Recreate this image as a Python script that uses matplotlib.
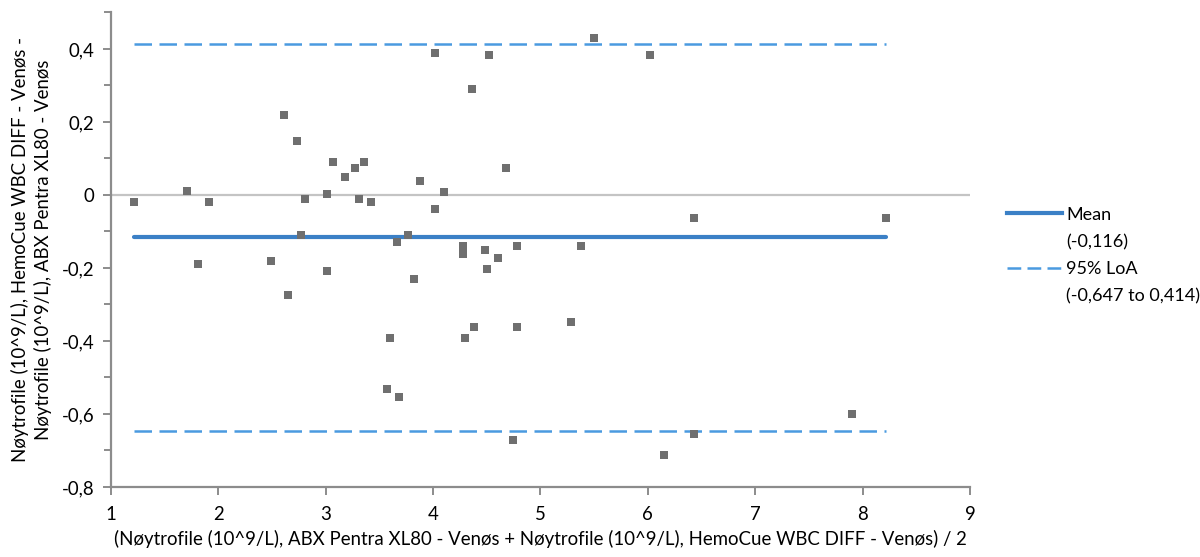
import matplotlib
matplotlib.use("Agg")
import matplotlib.pyplot as plt
from matplotlib.lines import Line2D
from matplotlib.ticker import MultipleLocator, FuncFormatter

# ---- data ----
avg = [1.21, 1.71, 1.81, 1.91, 2.49, 2.61, 2.65, 2.65, 2.73, 2.77, 2.81,
       3.01, 3.01, 3.07, 3.18, 3.27, 3.31, 3.36, 3.42, 3.57, 3.60, 3.66,
       3.68, 3.77, 3.82, 3.88, 4.02, 4.02, 4.10, 4.28, 4.28, 4.30, 4.36,
       4.38, 4.48, 4.50, 4.52, 4.60, 4.68, 4.74, 4.78, 4.78, 5.28, 5.38,
       5.50, 6.02, 6.15, 6.43, 6.43, 7.90, 8.22]
diff = [-0.020, 0.010, -0.190, -0.020, -0.180, 0.220, -0.273, -0.273, 0.149,
        -0.109, -0.010, 0.002, -0.209, 0.090, 0.049, 0.073, -0.010, 0.090,
        -0.020, -0.531, -0.391, -0.130, -0.554, -0.109, -0.230, 0.038, 0.390,
        -0.039, 0.008, -0.139, -0.162, -0.391, 0.290, -0.361, -0.150, -0.203,
        0.384, -0.173, 0.073, -0.672, -0.139, -0.361, -0.349, -0.139, 0.429,
        0.384, -0.712, -0.062, -0.654, -0.601, -0.062]
mean_diff = -0.116
loa_low = -0.647
loa_high = 0.414

x_ticks = [1, 2, 3, 4, 5, 6, 7, 8, 9]
y_ticks = [-0.8, -0.6, -0.4, -0.2, 0, 0.2, 0.4]

xlabel = "(Nøytrofile (10^9/L), ABX Pentra XL80 - Venøs + Nøytrofile (10^9/L), HemoCue WBC DIFF - Venøs) / 2"
ylabel = "Nøytrofile (10^9/L), HemoCue WBC DIFF - Venøs -\nNøytrofile (10^9/L), ABX Pentra XL80 - Venøs"
mean_label = ["Mean", "(-0,116)"]
loa_label = ["95% LoA", "(-0,647 to 0,414)"]

plt.rcParams['font.family'] = ['Lato', 'DejaVu Sans']
FS = 13.4

fig = plt.figure(figsize=(12, 5.57), dpi=100)
ax = fig.add_axes([0.0925, 0.1257, 0.7158, 0.852])

mean_col = '#3b80c6'
loa_col = '#4a9ae0'
axis_col = '#8c8c8c'

xmin, xmax = min(avg), max(avg)
ax.axhline(0, color='#c4c4c4', lw=1.6, zorder=1)
ax.plot([xmin, xmax], [mean_diff, mean_diff], color=mean_col, lw=3.0,
        solid_capstyle='round', zorder=2)
for v in (loa_low, loa_high):
    ax.plot([xmin, xmax], [v, v], color=loa_col, lw=1.8,
            dashes=(7, 3), zorder=2)
ax.scatter(avg, diff, marker='s', s=34, color='#6f6f6f', linewidths=0,
           zorder=3)

ax.set_xlim(1, 9)
ax.set_ylim(-0.8, 0.5)
ax.set_xticks(x_ticks)
ax.set_yticks(y_ticks)
ax.yaxis.set_minor_locator(MultipleLocator(0.1))
ax.yaxis.set_major_formatter(FuncFormatter(
    lambda v, p: ("%.1f" % v).replace('.', ',') if abs(v) > 1e-9 else "0"))
ax.xaxis.set_major_formatter(FuncFormatter(lambda v, p: "%d" % v))

for s in ('top', 'right'):
    ax.spines[s].set_visible(False)
for s in ('left', 'bottom'):
    ax.spines[s].set_color(axis_col)
    ax.spines[s].set_linewidth(1.6)
ax.tick_params(axis='both', which='both', direction='out', color=axis_col,
               width=1.4, labelsize=FS, labelcolor='black')
ax.tick_params(axis='y', which='major', length=6, pad=6)
ax.tick_params(axis='y', which='minor', length=5)
ax.tick_params(axis='x', which='major', length=6, pad=8)

ax.set_xlabel(xlabel, fontsize=FS, labelpad=5)
ax.set_ylabel(ylabel, fontsize=FS, labelpad=7, linespacing=1.3)

blank = Line2D([0], [0], color='none', lw=0)
handles = [Line2D([0], [0], color=mean_col, lw=3.0), blank,
           Line2D([0], [0], color=loa_col, lw=1.8, dashes=(5.5, 2.5)), blank]
labels = [mean_label[0], mean_label[1], loa_label[0], loa_label[1]]
fig.legend(handles, labels, loc='upper left',
           bbox_to_anchor=(0.826, 0.658), frameon=False, fontsize=13,
           handlelength=3.0, handletextpad=0.25, labelspacing=0.62)

fig.savefig('out.png', dpi=100)
